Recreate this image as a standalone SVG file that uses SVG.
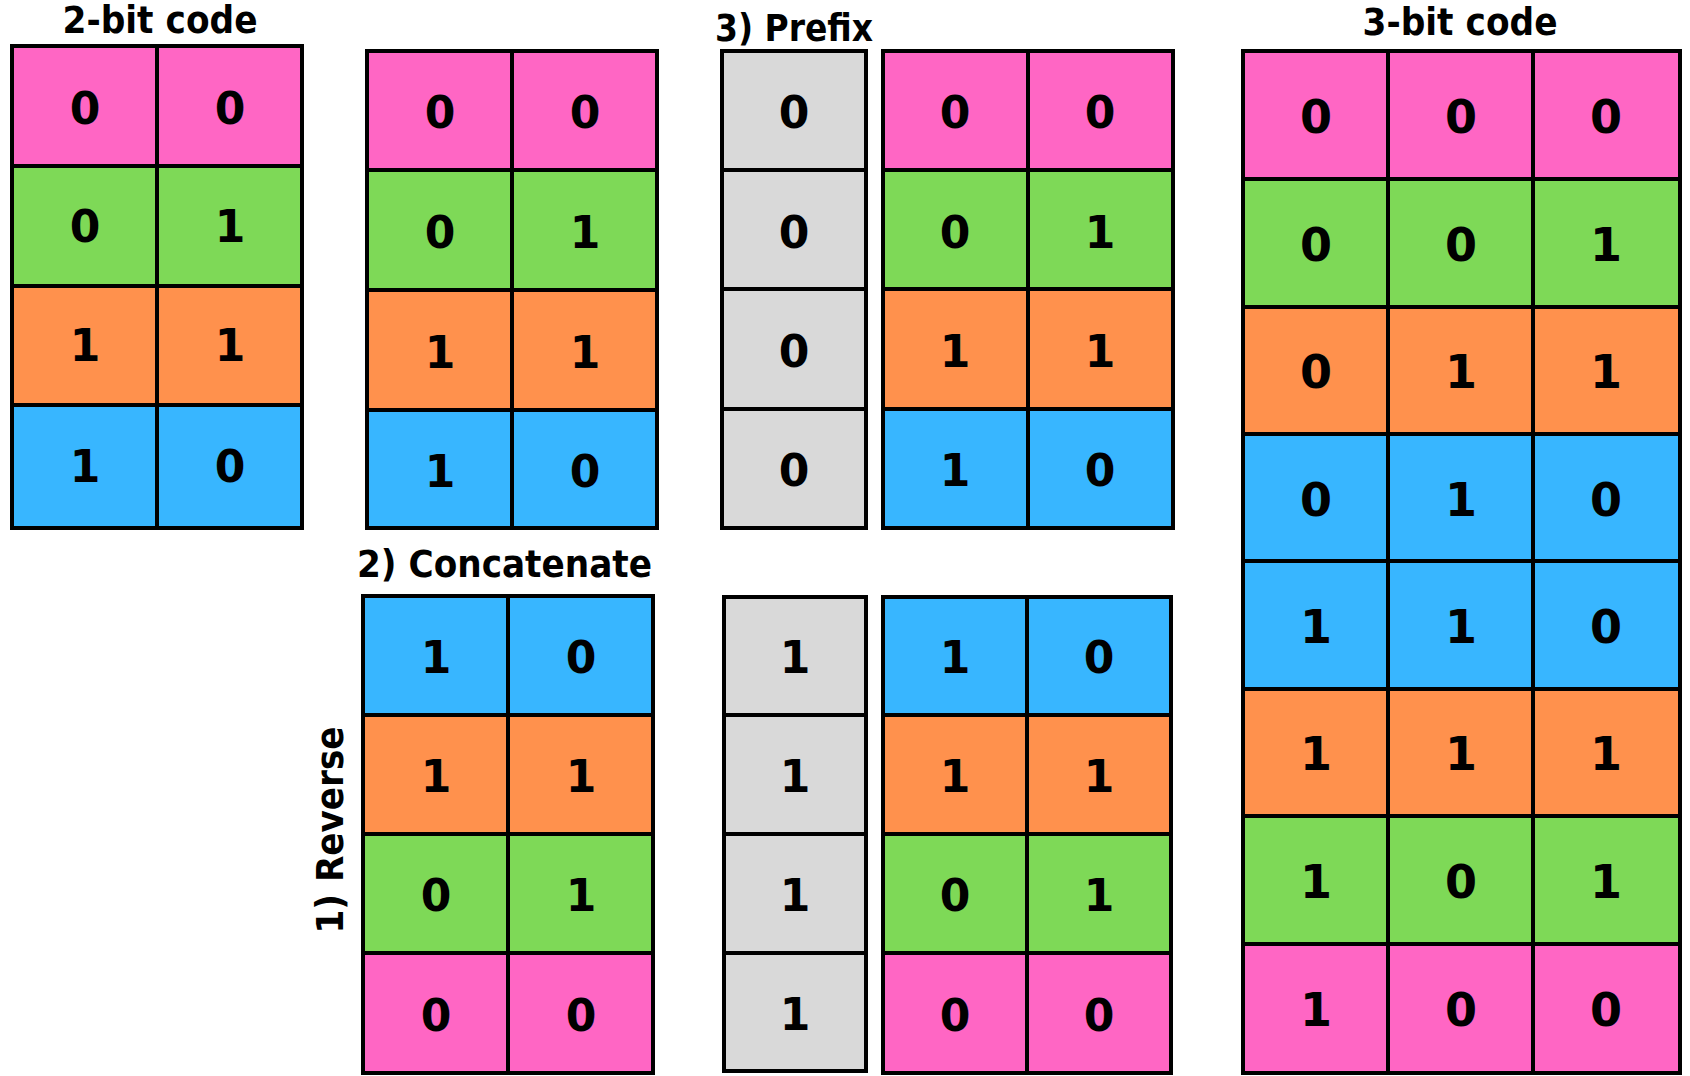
<svg xmlns="http://www.w3.org/2000/svg" width="1690" height="1076" viewBox="0 0 1690 1076">
<style>
rect{stroke:#000;stroke-width:4}
.p{fill:#FF66C4}.g{fill:#7ED957}.o{fill:#FF914D}.b{fill:#38B6FF}.y{fill:#D9D9D9}
text{font-family:"DejaVu Sans","Liberation Sans",sans-serif;font-weight:bold;fill:#000}
.d{font-size:44px;text-anchor:middle}
.d3{font-size:46px;text-anchor:middle}
.t{font-size:37px}
</style>
<rect x="0" y="0" width="1690" height="1076" style="fill:#fff;stroke:none"/>
<g id="labels">
<text class="t" x="160" y="33" text-anchor="middle" textLength="195" lengthAdjust="spacingAndGlyphs">2-bit code</text>
<text class="t" x="715" y="41" textLength="158" lengthAdjust="spacingAndGlyphs">3) Prefix</text>
<text class="t" x="1460" y="35" text-anchor="middle" textLength="195" lengthAdjust="spacingAndGlyphs">3-bit code</text>
<text class="t" x="357" y="577" textLength="295" lengthAdjust="spacingAndGlyphs">2) Concatenate</text>
<text class="t" transform="translate(343,830) rotate(-90)" x="0" y="0" text-anchor="middle" textLength="207" lengthAdjust="spacingAndGlyphs">1) Reverse</text>
</g>
<g id="table-2bit">
<rect class="p" x="12" y="46" width="145" height="120"/><rect class="p" x="157" y="46" width="145" height="120"/>
<rect class="g" x="12" y="166" width="145" height="120"/><rect class="g" x="157" y="166" width="145" height="120"/>
<rect class="o" x="12" y="286" width="145" height="119"/><rect class="o" x="157" y="286" width="145" height="119"/>
<rect class="b" x="12" y="405" width="145" height="123"/><rect class="b" x="157" y="405" width="145" height="123"/>
<text class="d" x="85" y="124">0</text><text class="d" x="230" y="124">0</text>
<text class="d" x="85" y="242">0</text><text class="d" x="230" y="242">1</text>
<text class="d" x="85" y="361">1</text><text class="d" x="230" y="361">1</text>
<text class="d" x="85" y="482">1</text><text class="d" x="230" y="482">0</text>
</g>
<g id="table-copy">
<rect class="p" x="367" y="51" width="145" height="119"/><rect class="p" x="512" y="51" width="145" height="119"/>
<rect class="g" x="367" y="170" width="145" height="120"/><rect class="g" x="512" y="170" width="145" height="120"/>
<rect class="o" x="367" y="290" width="145" height="120"/><rect class="o" x="512" y="290" width="145" height="120"/>
<rect class="b" x="367" y="410" width="145" height="118"/><rect class="b" x="512" y="410" width="145" height="118"/>
<text class="d" x="440" y="128">0</text><text class="d" x="585" y="128">0</text>
<text class="d" x="440" y="248">0</text><text class="d" x="585" y="248">1</text>
<text class="d" x="440" y="368">1</text><text class="d" x="585" y="368">1</text>
<text class="d" x="440" y="487">1</text><text class="d" x="585" y="487">0</text>
</g>
<g id="prefix-0">
<rect class="y" x="722" y="51" width="144" height="119"/>
<rect class="y" x="722" y="170" width="144" height="119"/>
<rect class="y" x="722" y="289" width="144" height="120"/>
<rect class="y" x="722" y="409" width="144" height="119"/>
<text class="d" x="794" y="128">0</text>
<text class="d" x="794" y="248">0</text>
<text class="d" x="794" y="367">0</text>
<text class="d" x="794" y="486">0</text>
</g>
<g id="table-prefixed-top">
<rect class="p" x="883" y="51" width="145" height="119"/><rect class="p" x="1028" y="51" width="145" height="119"/>
<rect class="g" x="883" y="170" width="145" height="119"/><rect class="g" x="1028" y="170" width="145" height="119"/>
<rect class="o" x="883" y="289" width="145" height="120"/><rect class="o" x="1028" y="289" width="145" height="120"/>
<rect class="b" x="883" y="409" width="145" height="119"/><rect class="b" x="1028" y="409" width="145" height="119"/>
<text class="d" x="955" y="128">0</text><text class="d" x="1100" y="128">0</text>
<text class="d" x="955" y="248">0</text><text class="d" x="1100" y="248">1</text>
<text class="d" x="955" y="367">1</text><text class="d" x="1100" y="367">1</text>
<text class="d" x="955" y="486">1</text><text class="d" x="1100" y="486">0</text>
</g>
<g id="table-reversed">
<rect class="b" x="363" y="596" width="145" height="119"/><rect class="b" x="508" y="596" width="145" height="119"/>
<rect class="o" x="363" y="715" width="145" height="119"/><rect class="o" x="508" y="715" width="145" height="119"/>
<rect class="g" x="363" y="834" width="145" height="119"/><rect class="g" x="508" y="834" width="145" height="119"/>
<rect class="p" x="363" y="953" width="145" height="120"/><rect class="p" x="508" y="953" width="145" height="120"/>
<text class="d" x="436" y="673">1</text><text class="d" x="581" y="673">0</text>
<text class="d" x="436" y="792">1</text><text class="d" x="581" y="792">1</text>
<text class="d" x="436" y="911">0</text><text class="d" x="581" y="911">1</text>
<text class="d" x="436" y="1031">0</text><text class="d" x="581" y="1031">0</text>
</g>
<g id="prefix-1">
<rect class="y" x="724" y="597" width="142" height="118"/>
<rect class="y" x="724" y="715" width="142" height="119"/>
<rect class="y" x="724" y="834" width="142" height="119"/>
<rect class="y" x="724" y="953" width="142" height="118"/>
<text class="d" x="795" y="673">1</text>
<text class="d" x="795" y="792">1</text>
<text class="d" x="795" y="911">1</text>
<text class="d" x="795" y="1030">1</text>
</g>
<g id="table-prefixed-bottom">
<rect class="b" x="883" y="597" width="144" height="118"/><rect class="b" x="1027" y="597" width="144" height="118"/>
<rect class="o" x="883" y="715" width="144" height="119"/><rect class="o" x="1027" y="715" width="144" height="119"/>
<rect class="g" x="883" y="834" width="144" height="119"/><rect class="g" x="1027" y="834" width="144" height="119"/>
<rect class="p" x="883" y="953" width="144" height="120"/><rect class="p" x="1027" y="953" width="144" height="120"/>
<text class="d" x="955" y="673">1</text><text class="d" x="1099" y="673">0</text>
<text class="d" x="955" y="792">1</text><text class="d" x="1099" y="792">1</text>
<text class="d" x="955" y="911">0</text><text class="d" x="1099" y="911">1</text>
<text class="d" x="955" y="1031">0</text><text class="d" x="1099" y="1031">0</text>
</g>
<g id="table-3bit">
<rect class="p" x="1243" y="51" width="145" height="128"/><rect class="p" x="1388" y="51" width="145" height="128"/><rect class="p" x="1533" y="51" width="147" height="128"/>
<rect class="g" x="1243" y="179" width="145" height="128"/><rect class="g" x="1388" y="179" width="145" height="128"/><rect class="g" x="1533" y="179" width="147" height="128"/>
<rect class="o" x="1243" y="307" width="145" height="127"/><rect class="o" x="1388" y="307" width="145" height="127"/><rect class="o" x="1533" y="307" width="147" height="127"/>
<rect class="b" x="1243" y="434" width="145" height="127"/><rect class="b" x="1388" y="434" width="145" height="127"/><rect class="b" x="1533" y="434" width="147" height="127"/>
<rect class="b" x="1243" y="561" width="145" height="128"/><rect class="b" x="1388" y="561" width="145" height="128"/><rect class="b" x="1533" y="561" width="147" height="128"/>
<rect class="o" x="1243" y="689" width="145" height="127"/><rect class="o" x="1388" y="689" width="145" height="127"/><rect class="o" x="1533" y="689" width="147" height="127"/>
<rect class="g" x="1243" y="816" width="145" height="128"/><rect class="g" x="1388" y="816" width="145" height="128"/><rect class="g" x="1533" y="816" width="147" height="128"/>
<rect class="p" x="1243" y="944" width="145" height="129"/><rect class="p" x="1388" y="944" width="145" height="129"/><rect class="p" x="1533" y="944" width="147" height="129"/>
<text class="d3" x="1316" y="133">0</text><text class="d3" x="1461" y="133">0</text><text class="d3" x="1606" y="133">0</text>
<text class="d3" x="1316" y="261">0</text><text class="d3" x="1461" y="261">0</text><text class="d3" x="1606" y="261">1</text>
<text class="d3" x="1316" y="388">0</text><text class="d3" x="1461" y="388">1</text><text class="d3" x="1606" y="388">1</text>
<text class="d3" x="1316" y="516">0</text><text class="d3" x="1461" y="516">1</text><text class="d3" x="1606" y="516">0</text>
<text class="d3" x="1316" y="643">1</text><text class="d3" x="1461" y="643">1</text><text class="d3" x="1606" y="643">0</text>
<text class="d3" x="1316" y="770">1</text><text class="d3" x="1461" y="770">1</text><text class="d3" x="1606" y="770">1</text>
<text class="d3" x="1316" y="898">1</text><text class="d3" x="1461" y="898">0</text><text class="d3" x="1606" y="898">1</text>
<text class="d3" x="1316" y="1026">1</text><text class="d3" x="1461" y="1026">0</text><text class="d3" x="1606" y="1026">0</text>
</g>
</svg>
